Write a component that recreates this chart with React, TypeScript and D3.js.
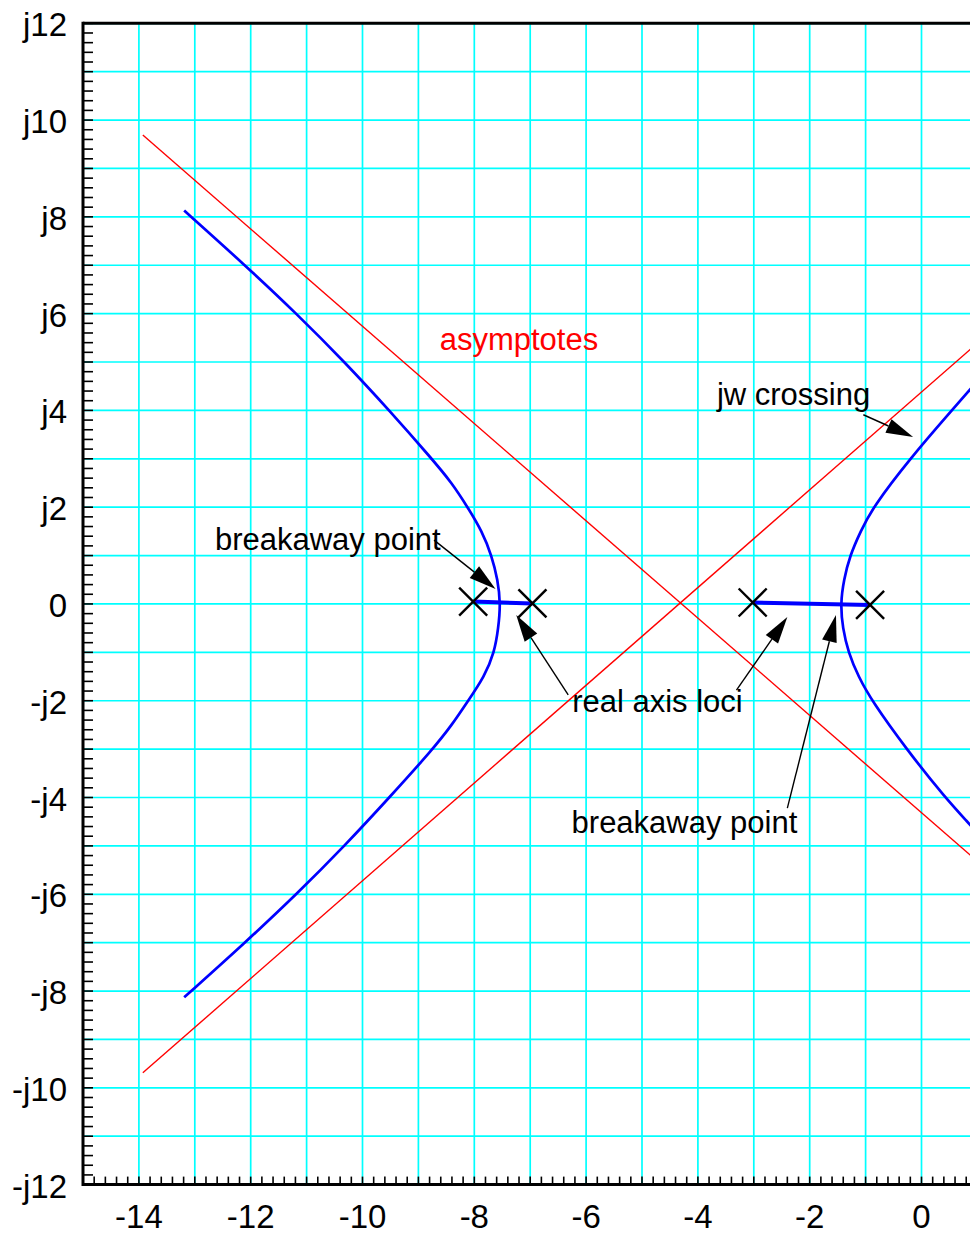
import React from "react";
import * as d3 from "d3";

// ---- data ----
const xTickValues = [-14, -12, -10, -8, -6, -4, -2, 0];
const xTickLabels = ["-14", "-12", "-10", "-8", "-6", "-4", "-2", "0"];
const yTickValues = [12, 10, 8, 6, 4, 2, 0, -2, -4, -6, -8, -10, -12];
const yTickLabels = ["j12", "j10", "j8", "j6", "j4", "j2", "0", "-j2", "-j4", "-j6", "-j8", "-j10", "-j12"];

const poles: [number, number][] = [[-8.02, 0.05], [-6.96, 0.01], [-3.02, 0.03], [-0.92, -0.02]];

// root-locus branches, listed bottom to top (increasing imaginary part)
const leftBranch: [number, number][] = [
  [-13.19, -8.13], [-12.1, -7.0], [-11.18, -6.0], [-10.32, -5.0], [-9.52, -4.0], [-8.74, -3.0],
  [-8.4, -2.5], [-8.11, -2.0], [-7.82, -1.5], [-7.64, -1.0], [-7.57, -0.5], [-7.53, 0],
  [-7.58, 0.5], [-7.69, 1.0], [-7.86, 1.5], [-8.12, 2.0], [-8.4, 2.5], [-8.76, 3.0],
  [-9.52, 4.0], [-10.32, 5.0], [-11.18, 6.0], [-12.1, 7.0], [-13.19, 8.13],
];
const rightBranch: [number, number][] = [
  [0.96, -4.68], [0.86, -4.55], [0.42, -4.0], [-0.27, -3.0], [-0.89, -2.0], [-1.13, -1.5],
  [-1.31, -1.0], [-1.41, -0.5], [-1.45, 0], [-1.39, 0.5], [-1.28, 1.0], [-1.09, 1.5],
  [-0.87, 2.0], [-0.21, 3.0], [0.54, 4.0], [0.86, 4.42], [0.96, 4.55],
];
const realAxisLoci: [number, number][][] = [
  [[-8.02, 0.05], [-6.96, 0.01]],
  [[-3.02, 0.03], [-0.92, -0.02]],
];
const asymptotes: [number, number][][] = [
  [[-13.93, 9.69], [1, -5.32]],
  [[-13.93, -9.69], [1, 5.39]],
];

const arrows: { from: [number, number]; to: [number, number] }[] = [
  { from: [-8.72, 1.32], to: [-7.62, 0.31] },
  { from: [-6.32, -1.88], to: [-7.25, -0.23] },
  { from: [-3.31, -1.78], to: [-2.4, -0.27] },
  { from: [-2.4, -4.22], to: [-1.53, -0.23] },
  { from: [-1.04, 3.91], to: [-0.15, 3.45] },
];
const labels: { text: string; x: number; y: number; color: string }[] = [
  { text: "breakaway point", x: -12.64, y: 1.12, color: "#000" },
  { text: "asymptotes", x: -8.62, y: 5.25, color: "#ff0000" },
  { text: "jw crossing", x: -3.66, y: 4.11, color: "#000" },
  { text: "real axis loci", x: -6.25, y: -2.23, color: "#000" },
  { text: "breakaway point", x: -6.26, y: -4.74, color: "#000" },
];

// ---- layout ----
const W = 970;
const H = 1235;
const FONT = "'Liberation Sans', Arial, Helvetica, sans-serif";

export default function App() {
  const x = d3.scaleLinear().domain([-15, 1]).range([83, 83 + 16 * 55.9]);
  const y = d3.scaleLinear().domain([-12, 12]).range([1184.6, 23.3]);
  const [x0, x1] = x.range();
  const yBottom = y(-12);
  const yTop = y(12);

  const gridX = d3.range(-15, 2, 1);
  const gridY = d3.range(-12, 13, 1);
  const minorX = d3.range(-15, 1.0001, 0.2);
  const minorY = d3.range(-12, 12.0001, 0.2);

  const line = d3
    .line<[number, number]>()
    .x((d) => x(d[0]))
    .y((d) => y(d[1]))
    .curve(d3.curveBasis);
  const straight = d3
    .line<[number, number]>()
    .x((d) => x(d[0]))
    .y((d) => y(d[1]));

  const X_HALF = 14;

  return (
    <svg
      width={W}
      height={H}
      style={{ position: "absolute", left: 0, top: 0, background: "#fff", display: "block" }}
      fontFamily={FONT}
    >
      <defs>
        <clipPath id="plot">
          <rect x={x0} y={yTop} width={x1 - x0} height={yBottom - yTop} />
        </clipPath>
      </defs>
      <rect x={0} y={0} width={W} height={H} fill="#fff" />
      <g clipPath="url(#plot)">
        {gridX.map((v) => (
          <line key={"gx" + v} x1={x(v)} x2={x(v)} y1={yTop} y2={yBottom} stroke="#00ffff" strokeWidth={1.7} />
        ))}
        {gridY.map((v) => (
          <line key={"gy" + v} x1={x0} x2={x1} y1={y(v)} y2={y(v)} stroke="#00ffff" strokeWidth={1.7} />
        ))}
        {asymptotes.map((a, i) => (
          <path key={"as" + i} d={straight(a) || ""} stroke="#ff0000" strokeWidth={1.4} fill="none" />
        ))}
        <path d={line(leftBranch) || ""} stroke="#0000ff" strokeWidth={2.7} fill="none" />
        <path d={line(rightBranch) || ""} stroke="#0000ff" strokeWidth={2.7} fill="none" />
        {realAxisLoci.map((s, i) => (
          <path key={"ra" + i} d={straight(s) || ""} stroke="#0000ff" strokeWidth={4} fill="none" />
        ))}
        {poles.map((p, i) => (
          <g key={"p" + i} stroke="#000" strokeWidth={2.4}>
            <line x1={x(p[0]) - X_HALF} y1={y(p[1]) - X_HALF} x2={x(p[0]) + X_HALF} y2={y(p[1]) + X_HALF} />
            <line x1={x(p[0]) - X_HALF} y1={y(p[1]) + X_HALF} x2={x(p[0]) + X_HALF} y2={y(p[1]) - X_HALF} />
          </g>
        ))}
        {arrows.map((a, i) => {
          const sx = x(a.from[0]);
          const sy = y(a.from[1]);
          const tx = x(a.to[0]);
          const ty = y(a.to[1]);
          const len = Math.hypot(tx - sx, ty - sy);
          const ux = (tx - sx) / len;
          const uy = (ty - sy) / len;
          const L = 27;
          const hw = 7.5;
          const bx = tx - ux * L;
          const by = ty - uy * L;
          const nx = -uy;
          const ny = ux;
          return (
            <g key={"ar" + i}>
              <line x1={sx} y1={sy} x2={bx} y2={by} stroke="#000" strokeWidth={1.4} />
              <polygon
                points={`${tx},${ty} ${bx + nx * hw},${by + ny * hw} ${bx - nx * hw},${by - ny * hw}`}
                fill="#000"
              />
            </g>
          );
        })}
        {labels.map((l, i) => (
          <text key={"lb" + i} x={x(l.x)} y={y(l.y)} fill={l.color} fontSize={31}>
            {l.text}
          </text>
        ))}
      </g>
      {/* axes */}
      <g stroke="#000" strokeWidth={1.6}>
        {minorY.map((v, i) => (
          <line key={"my" + i} x1={x0} x2={x0 + 10} y1={y(v)} y2={y(v)} />
        ))}
        {minorX.map((v, i) => (
          <line key={"mx" + i} x1={x(v)} x2={x(v)} y1={yBottom} y2={yBottom - 8} />
        ))}
      </g>
      <line x1={x0} x2={W} y1={yTop} y2={yTop} stroke="#000" strokeWidth={3} />
      <line x1={x0} x2={W} y1={yBottom} y2={yBottom} stroke="#000" strokeWidth={3} />
      <line x1={x0} x2={x0} y1={yTop - 1.5} y2={yBottom + 1.5} stroke="#000" strokeWidth={3} />
      {yTickValues.map((v, i) => (
        <text key={"yl" + i} x={67} y={y(v) + 13} textAnchor="end" fontSize={33} fill="#000">
          {yTickLabels[i]}
        </text>
      ))}
      {xTickValues.map((v, i) => (
        <text key={"xl" + i} x={x(v)} y={1228} textAnchor="middle" fontSize={33} fill="#000">
          {xTickLabels[i]}
        </text>
      ))}
    </svg>
  );
}
